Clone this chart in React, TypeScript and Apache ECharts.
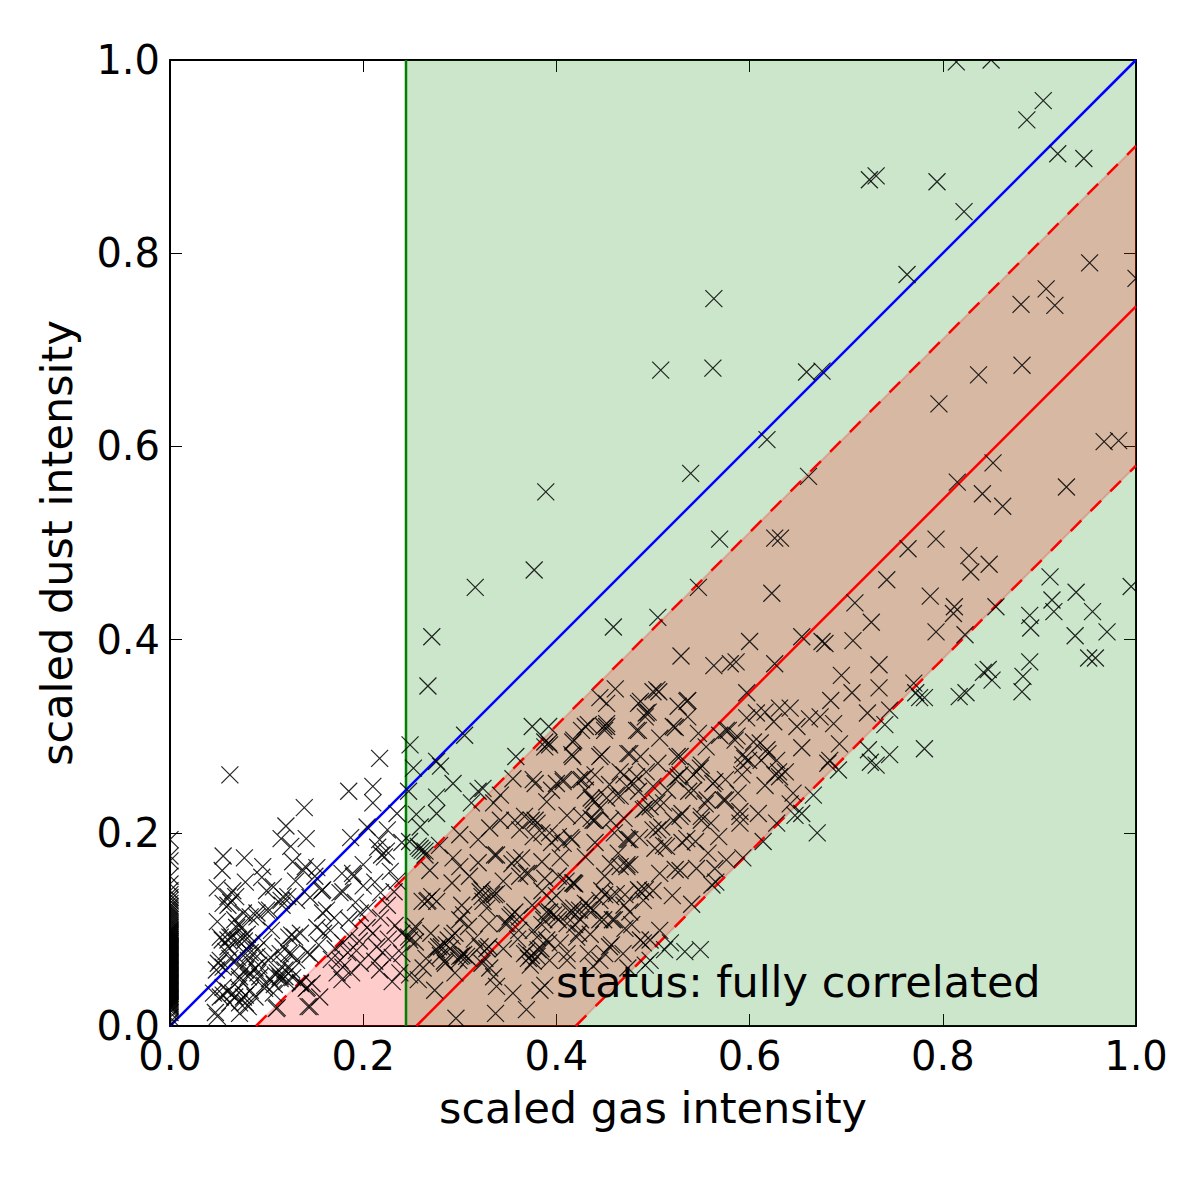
import React, { useEffect, useRef } from 'react';
import * as echarts from 'echarts';

// pixels with no gas at all, only the dust value matters
const zeroGasDust = [
  0.001, 0.004, 0.009, 0.014, 0.017, 0.019, 0.02, 0.021, 0.022, 0.023, 0.024, 0.025, 0.026, 0.027, 0.028, 0.029,
  0.03, 0.031, 0.032, 0.033, 0.034, 0.035, 0.036, 0.037, 0.038, 0.039, 0.04, 0.041, 0.042, 0.043, 0.044, 0.045,
  0.046, 0.047, 0.048, 0.049, 0.05, 0.051, 0.052, 0.053, 0.054, 0.055, 0.056, 0.057, 0.058, 0.059, 0.06, 0.061,
  0.062, 0.063, 0.064, 0.065, 0.066, 0.067, 0.068, 0.069, 0.07, 0.071, 0.072, 0.073, 0.074, 0.075, 0.076, 0.077,
  0.078, 0.079, 0.08, 0.081, 0.082, 0.083, 0.084, 0.085, 0.086, 0.087, 0.088, 0.089, 0.09, 0.091, 0.092, 0.093,
  0.094, 0.095, 0.096, 0.097, 0.098, 0.099, 0.1, 0.102, 0.104, 0.106, 0.108, 0.11, 0.112, 0.114, 0.116, 0.118,
  0.12, 0.122, 0.124, 0.127, 0.13, 0.133, 0.136, 0.14, 0.147, 0.155, 0.171, 0.176, 0.193,
];

const lowGas = [
  [0.062, 0.26], [0.217, 0.277], [0.185, 0.243], [0.21, 0.248], [0.21, 0.231], [0.139, 0.226], [0.12, 0.207],
  [0.115, 0.194], [0.141, 0.194], [0.125, 0.186], [0.187, 0.195], [0.204, 0.206], [0.235, 0.22], [0.055, 0.176],
  [0.077, 0.174], [0.054, 0.161], [0.049, 0.143], [0.096, 0.165], [0.095, 0.154], [0.078, 0.149], [0.06, 0.134],
  [0.055, 0.127], [0.117, 0.134], [0.107, 0.144], [0.127, 0.17], [0.138, 0.161], [0.152, 0.164], [0.158, 0.141],
  [0.178, 0.158], [0.176, 0.138], [0.189, 0.158], [0.2, 0.167], [0.219, 0.177], [0.225, 0.203], [0.217, 0.193],
  [0.049, 0.01], [0.047, 0.014], [0.045, 0.034], [0.052, 0.03], [0.055, 0.04], [0.05, 0.065], [0.055, 0.061],
  [0.054, 0.089], [0.062, 0.092], [0.069, 0.102], [0.07, 0.089], [0.049, 0.108], [0.076, 0.117], [0.09, 0.113],
  [0.083, 0.076], [0.081, 0.068], [0.09, 0.079], [0.081, 0.051], [0.072, 0.048], [0.065, 0.034], [0.076, 0.03],
  [0.081, 0.02], [0.072, 0.013], [0.062, 0.024], [0.072, 0.024], [0.088, 0.03], [0.093, 0.051], [0.104, 0.071],
  [0.114, 0.051], [0.111, 0.055], [0.119, 0.058], [0.107, 0.034], [0.111, 0.019], [0.129, 0.092], [0.135, 0.096],
  [0.123, 0.092], [0.117, 0.082], [0.131, 0.068], [0.126, 0.058], [0.142, 0.076], [0.142, 0.04], [0.155, 0.03],
  [0.145, 0.02], [0.135, 0.045], [0.158, 0.117], [0.166, 0.099], [0.152, 0.102], [0.179, 0.086], [0.184, 0.076],
  [0.176, 0.068], [0.179, 0.061], [0.188, 0.055], [0.173, 0.055], [0.178, 0.048], [0.197, 0.065], [0.204, 0.102],
  [0.197, 0.117], [0.21, 0.096], [0.214, 0.082], [0.22, 0.076], [0.23, 0.071], [0.217, 0.058], [0.23, 0.046],
  [0.238, 0.055], [0.24, 0.096], [0.218, 0.138], [0.222, 0.175], [0.224, 0.181], [0.179, 0.139], [0.19, 0.155],
  [0.2, 0.145], [0.212, 0.149], [0.14, 0.165], [0.15, 0.155], [0.157, 0.14], [0.131, 0.13], [0.122, 0.134],
  [0.115, 0.13], [0.09, 0.117], [0.083, 0.113], [0.103, 0.12], [0.068, 0.134], [0.063, 0.128], [0.065, 0.14],
  [0.058, 0.077], [0.062, 0.07], [0.06, 0.082], [0.077, 0.088], [0.08, 0.095], [0.085, 0.086], [0.072, 0.062],
  [0.07, 0.071], [0.092, 0.063], [0.088, 0.06], [0.098, 0.042], [0.103, 0.049], [0.108, 0.043], [0.121, 0.046],
  [0.127, 0.05], [0.118, 0.064], [0.126, 0.075], [0.159, 0.096], [0.17, 0.112], [0.162, 0.12], [0.185, 0.11],
  [0.192, 0.128], [0.205, 0.122], [0.218, 0.112], [0.225, 0.125], [0.235, 0.15], [0.228, 0.16], [0.232, 0.139],
  [0.215, 0.185], [0.24, 0.19], [0.186, 0.093], [0.193, 0.078], [0.196, 0.088], [0.167, 0.069], [0.171, 0.08],
  [0.226, 0.09], [0.233, 0.104], [0.212, 0.067], [0.24, 0.075], [0.1, 0.14], [0.13, 0.15], [0.145, 0.133],
  [0.078, 0.024], [0.11, 0.018], [0.143, 0.02], [0.141, 0.039], [0.135, 0.044],
  [0.147, 0.044], [0.114, 0.049], [0.109, 0.053], [0.119, 0.051], [0.078, 0.058], [0.083, 0.055], [0.072, 0.051],
  [0.091, 0.055], [0.052, 0.068], [0.048, 0.058], [0.06, 0.036], [0.067, 0.03], [0.055, 0.032],
  [0.071, 0.039], [0.083, 0.037], [0.078, 0.032], [0.098, 0.039], [0.126, 0.094],
  [0.071, 0.106], [0.067, 0.11], [0.074, 0.101], [0.06, 0.125], [0.052, 0.092], [0.06, 0.089],
  [0.064, 0.092], [0.076, 0.092], [0.097, 0.086], [0.105, 0.099], [0.114, 0.075], [0.123, 0.075], [0.1, 0.12],
  [0.116, 0.125], [0.078, 0.075], [0.09, 0.072], [0.102, 0.068], [0.154, 0.084], [0.145, 0.074],
];

const bandLeft = [
  [0.2485, 0.291], [0.375, 0.31], [0.392, 0.31], [0.305, 0.301], [0.358, 0.279], [0.388, 0.294], [0.392, 0.293],
  [0.28, 0.269], [0.252, 0.267], [0.247, 0.243], [0.276, 0.274], [0.293, 0.251], [0.324, 0.246], [0.319, 0.243],
  [0.276, 0.237], [0.276, 0.22], [0.255, 0.219], [0.259, 0.206], [0.312, 0.231], [0.355, 0.256], [0.376, 0.255],
  [0.407, 0.255], [0.426, 0.255], [0.417, 0.279], [0.445, 0.279], [0.476, 0.282], [0.426, 0.306], [0.449, 0.31],
  [0.483, 0.306], [0.259, 0.184], [0.264, 0.181], [0.248, 0.191], [0.279, 0.187], [0.3, 0.198], [0.342, 0.239],
  [0.335, 0.231], [0.342, 0.213], [0.331, 0.205], [0.319, 0.193], [0.293, 0.174], [0.319, 0.169], [0.338, 0.177],
  [0.357, 0.172], [0.367, 0.217], [0.374, 0.213], [0.38, 0.21], [0.362, 0.203], [0.357, 0.213], [0.376, 0.196],
  [0.393, 0.2], [0.411, 0.218], [0.407, 0.189], [0.43, 0.244], [0.438, 0.234], [0.445, 0.225], [0.452, 0.236],
  [0.466, 0.238], [0.438, 0.213], [0.426, 0.217], [0.415, 0.195], [0.404, 0.174], [0.417, 0.148], [0.402, 0.155],
  [0.362, 0.155], [0.354, 0.168], [0.371, 0.158], [0.269, 0.161], [0.292, 0.148], [0.271, 0.134], [0.266, 0.129],
  [0.276, 0.129], [0.302, 0.125], [0.321, 0.139], [0.323, 0.134], [0.338, 0.137], [0.333, 0.136], [0.352, 0.113],
  [0.349, 0.106], [0.357, 0.118], [0.33, 0.106], [0.309, 0.103], [0.252, 0.099], [0.248, 0.089], [0.254, 0.087],
  [0.292, 0.093], [0.281, 0.082], [0.276, 0.079], [0.286, 0.084], [0.304, 0.074], [0.3, 0.072], [0.309, 0.07],
  [0.321, 0.082], [0.33, 0.082], [0.295, 0.055], [0.257, 0.048], [0.248, 0.053], [0.274, 0.037], [0.331, 0.06],
  [0.335, 0.051], [0.338, 0.041], [0.355, 0.034], [0.383, 0.037], [0.369, 0.017], [0.337, 0.013], [0.296, 0.008],
  [0.371, 0.07], [0.373, 0.063], [0.367, 0.075], [0.381, 0.079], [0.393, 0.118], [0.4, 0.113], [0.419, 0.105],
  [0.417, 0.118], [0.424, 0.12], [0.438, 0.12], [0.449, 0.11], [0.456, 0.134], [0.462, 0.137], [0.476, 0.167],
  [0.466, 0.165], [0.455, 0.082], [0.469, 0.075], [0.476, 0.193], [0.485, 0.141], [0.41, 0.15], [0.419, 0.147],
  [0.39, 0.089], [0.38, 0.092], [0.411, 0.106], [0.423, 0.096], [0.393, 0.068], [0.411, 0.068], [0.445, 0.068],
  [0.438, 0.062], [0.425, 0.11], [0.433, 0.125], [0.4, 0.135], [0.265, 0.07], [0.29, 0.08], [0.262, 0.06],
  [0.284, 0.067], [0.315, 0.09], [0.326, 0.07], [0.345, 0.08], [0.36, 0.09], [0.27, 0.096], [0.3, 0.165],
  [0.31, 0.155], [0.328, 0.122], [0.345, 0.15], [0.3, 0.11], [0.385, 0.17], [0.395, 0.19], [0.43, 0.175],
  [0.45, 0.155], [0.44, 0.19], [0.46, 0.2], [0.47, 0.215], [0.455, 0.25], [0.47, 0.26], [0.44, 0.26], [0.385, 0.14],
  [0.375, 0.125], [0.385, 0.105], [0.435, 0.095], [0.46, 0.11], [0.447, 0.14], [0.47, 0.125], [0.478, 0.105],
  [0.261, 0.182], [0.257, 0.186], [0.264, 0.177], [0.323, 0.141], [0.336, 0.136], [0.324, 0.129], [0.267, 0.13],
  [0.261, 0.129], [0.304, 0.115], [0.336, 0.177], [0.364, 0.174],
  [0.369, 0.158], [0.354, 0.115], [0.347, 0.106], [0.362, 0.113], [0.361, 0.099], [0.295, 0.096], [0.247, 0.092],
  [0.254, 0.103], [0.288, 0.089], [0.278, 0.082], [0.28, 0.073], [0.302, 0.073], [0.299, 0.068],
  [0.307, 0.072], [0.328, 0.08], [0.323, 0.065], [0.374, 0.073], [0.369, 0.077],
  [0.285, 0.065], [0.418, 0.148], [0.388, 0.153], [0.395, 0.13], [0.39, 0.118], [0.397, 0.115],
  [0.402, 0.11], [0.387, 0.11], [0.418, 0.122], [0.43, 0.127], [0.414, 0.118], [0.433, 0.12],
  [0.445, 0.11], [0.45, 0.136], [0.473, 0.165], [0.456, 0.168], [0.464, 0.179], [0.487, 0.139],
  [0.492, 0.141], [0.471, 0.101], [0.457, 0.084], [0.476, 0.118], [0.376, 0.099], [0.421, 0.092], [0.404, 0.086],
  [0.392, 0.086], [0.38, 0.072], [0.376, 0.067], [0.384, 0.08], [0.433, 0.075], [0.411, 0.075], [0.45, 0.075],
  [0.49, 0.086], [0.497, 0.068], [0.474, 0.06],
];

const bandRight = [
  [0.5, 0.346], [0.506, 0.346], [0.487, 0.336], [0.495, 0.325], [0.492, 0.32], [0.526, 0.331], [0.536, 0.337],
  [0.536, 0.32], [0.485, 0.306], [0.523, 0.309], [0.507, 0.298], [0.547, 0.303], [0.555, 0.289], [0.578, 0.306],
  [0.569, 0.301], [0.597, 0.319], [0.607, 0.324], [0.625, 0.315], [0.631, 0.329], [0.642, 0.329], [0.616, 0.325],
  [0.649, 0.31], [0.662, 0.318], [0.673, 0.32], [0.687, 0.313], [0.585, 0.296], [0.604, 0.294], [0.618, 0.286],
  [0.628, 0.275], [0.595, 0.277], [0.593, 0.27], [0.592, 0.26], [0.612, 0.275], [0.631, 0.258], [0.637, 0.263],
  [0.616, 0.249], [0.645, 0.241], [0.642, 0.23], [0.588, 0.241], [0.573, 0.234], [0.562, 0.251], [0.554, 0.23],
  [0.55, 0.27], [0.545, 0.263], [0.528, 0.279], [0.505, 0.272], [0.487, 0.279], [0.474, 0.282], [0.526, 0.258],
  [0.537, 0.243], [0.5, 0.248], [0.483, 0.258], [0.473, 0.248], [0.49, 0.224], [0.497, 0.227], [0.511, 0.231],
  [0.521, 0.213], [0.53, 0.22], [0.505, 0.203], [0.55, 0.217], [0.59, 0.222], [0.59, 0.21], [0.609, 0.22],
  [0.628, 0.21], [0.647, 0.218], [0.654, 0.22], [0.568, 0.196], [0.557, 0.179], [0.544, 0.191], [0.511, 0.187],
  [0.502, 0.184], [0.474, 0.193], [0.486, 0.195], [0.576, 0.172], [0.545, 0.163], [0.564, 0.163], [0.523, 0.162],
  [0.473, 0.167], [0.507, 0.158], [0.614, 0.191], [0.593, 0.174], [0.561, 0.146], [0.565, 0.149], [0.528, 0.161],
  [0.53, 0.19], [0.515, 0.244], [0.56, 0.21], [0.575, 0.255], [0.49, 0.13], [0.5, 0.14], [0.52, 0.135],
  [0.54, 0.126], [0.492, 0.063], [0.518, 0.086], [0.507, 0.099], [0.497, 0.089], [0.533, 0.077], [0.549, 0.079],
  [0.512, 0.079], [0.487, 0.089], [0.458, 0.11], [0.471, 0.136], [0.445, 0.13], [0.388, 0.042],
  [0.393, 0.291], [0.388, 0.289], [0.418, 0.296], [0.43, 0.31], [0.452, 0.31], [0.447, 0.281],
  [0.416, 0.281], [0.466, 0.263], [0.424, 0.255], [0.43, 0.258], [0.407, 0.253],
  [0.4, 0.251], [0.436, 0.236], [0.44, 0.232], [0.462, 0.239], [0.493, 0.263], [0.48, 0.251], [0.485, 0.243],
  [0.492, 0.225], [0.378, 0.251], [0.39, 0.232], [0.395, 0.244], [0.436, 0.215], [0.44, 0.213],
  [0.378, 0.213], [0.385, 0.2], [0.416, 0.193], [0.402, 0.196], [0.473, 0.194],
  [0.5, 0.203], [0.456, 0.213], [0.521, 0.31], [0.576, 0.306],
  [0.593, 0.281], [0.599, 0.275], [0.587, 0.3],
  [0.611, 0.293], [0.619, 0.282], [0.626, 0.26], [0.63, 0.263], [0.525, 0.279], [0.549, 0.267],
  [0.542, 0.26], [0.528, 0.26], [0.523, 0.256], [0.564, 0.253], [0.542, 0.244],
  [0.575, 0.234], [0.556, 0.234], [0.504, 0.231], [0.528, 0.217],
  [0.55, 0.213], [0.59, 0.217], [0.509, 0.206], [0.535, 0.194],
  [0.514, 0.186],
];

const sparse = [
  [0.814, 0.998], [0.85, 1.0], [0.904, 0.958], [0.887, 0.938], [0.919, 0.903], [0.946, 0.898], [0.724, 0.876],
  [0.731, 0.88], [0.794, 0.874], [0.822, 0.843], [0.763, 0.778], [0.952, 0.79], [1.0, 0.774], [0.563, 0.753],
  [0.881, 0.747], [0.907, 0.763], [0.916, 0.746], [0.508, 0.679], [0.562, 0.681], [0.659, 0.677], [0.675, 0.678],
  [0.837, 0.674], [0.882, 0.684], [0.796, 0.644], [0.618, 0.607], [0.967, 0.605], [0.982, 0.606], [0.389, 0.553],
  [0.539, 0.572], [0.661, 0.569], [0.852, 0.583], [0.815, 0.563], [0.841, 0.551], [0.862, 0.538], [0.928, 0.558],
  [0.569, 0.504], [0.626, 0.505], [0.632, 0.505], [0.764, 0.494], [0.793, 0.504], [0.827, 0.487], [0.829, 0.47],
  [0.848, 0.478], [0.911, 0.465], [0.995, 0.455], [0.316, 0.454], [0.377, 0.472], [0.547, 0.454], [0.742, 0.462],
  [0.623, 0.448], [0.787, 0.445], [0.938, 0.449], [0.855, 0.434], [0.913, 0.441], [0.955, 0.429], [0.915, 0.429],
  [0.89, 0.425], [0.505, 0.423], [0.459, 0.413], [0.271, 0.403], [0.709, 0.438], [0.812, 0.434], [0.811, 0.427],
  [0.891, 0.412], [0.97, 0.408], [0.937, 0.404], [0.793, 0.408], [0.823, 0.405], [0.726, 0.418], [0.707, 0.399],
  [0.654, 0.403], [0.6, 0.398], [0.675, 0.398], [0.529, 0.383], [0.563, 0.373], [0.586, 0.377], [0.58, 0.375],
  [0.626, 0.375], [0.597, 0.345], [0.678, 0.396], [0.695, 0.363], [0.706, 0.345], [0.684, 0.337],
  [0.734, 0.374], [0.734, 0.35], [0.89, 0.377], [0.883, 0.362], [0.882, 0.346], [0.958, 0.381], [0.951, 0.381],
  [0.842, 0.366], [0.847, 0.369], [0.851, 0.358], [0.77, 0.355], [0.781, 0.34], [0.817, 0.341], [0.824, 0.345],
  [0.772, 0.345], [0.776, 0.34], [0.722, 0.324], [0.745, 0.327], [0.74, 0.312], [0.725, 0.273], [0.723, 0.286],
  [0.731, 0.27], [0.745, 0.281], [0.781, 0.287], [0.692, 0.265], [0.683, 0.275], [0.67, 0.2], [0.693, 0.292],
  [0.654, 0.288], [0.681, 0.272], [0.666, 0.239], [0.267, 0.352], [0.461, 0.349],
  [0.445, 0.34], [0.504, 0.348], [0.485, 0.334], [0.493, 0.324], [0.452, 0.334], [0.452, 0.313], [0.45, 0.306],
  [0.433, 0.312], [0.417, 0.294], [0.535, 0.336],
];

const blueLine = [[0, 0], [1, 1]];
const redLine = [[0.255, 0], [1, 0.745]];
const redUpper = [[0.089, 0], [1, 0.911]];
const redLower = [[0.42, 0], [1, 0.58]];
const gasThreshold = [[0.2443, 0], [0.2443, 1]];
const greenRegion = [[0.2443, 0], [1, 0], [1, 1], [0.2443, 1]];
const redRegion = [[0.089, 0], [1, 0.911], [1, 0.58], [0.42, 0]];

const FONT = 'DejaVu Sans';
const CROSS = 8.5;

const region = (points: number[][], fill: string, stroke = 'none') => ({
  type: 'custom',
  silent: true,
  z: 1,
  clip: true,
  data: [[0, 0]],
  renderItem: (_: any, api: any) => ({
    type: 'polygon',
    shape: { points: points.map((p) => api.coord(p)) },
    style: { fill, stroke, lineWidth: 2 },
  }),
});

const line = (data: number[][], color: string, dashed = false) => ({
  type: 'line',
  data,
  z: 3,
  symbol: 'none',
  silent: true,
  lineStyle: { color, width: 2.5, type: dashed ? [15, 13] : 'solid' },
});

const axis = (extra: any) => ({
  type: 'value',
  min: 0,
  max: 1,
  interval: 0.2,
  splitLine: { show: false },
  axisLine: { show: true, onZero: false, lineStyle: { color: '#000', width: 2 } },
  axisTick: { show: true, inside: true, length: 12, lineStyle: { color: '#000', width: 1 } },
  axisLabel: {
    color: '#000',
    fontFamily: FONT,
    fontSize: 40,
    margin: 10,
    hideOverlap: false,
    showMinLabel: true,
    showMaxLabel: true,
    formatter: (v: number) => v.toFixed(1),
  },
  nameTextStyle: { color: '#000', fontFamily: FONT, fontSize: 43 },
  ...extra,
});

const App: React.FC = () => {
  const chartRef = useRef<HTMLDivElement>(null);

  useEffect(() => {
    if (!chartRef.current) return;
    const chart = echarts.init(chartRef.current, undefined, { renderer: 'svg' });

    const points = [...zeroGasDust.map((d) => [0, d]), ...lowGas, ...bandLeft, ...bandRight, ...sparse];

    chart.setOption({
      animation: false,
      backgroundColor: '#fff',
      grid: { left: 170, top: 60, width: 966, height: 966 },
      xAxis: [
        axis({ position: 'bottom', name: 'scaled gas intensity', nameLocation: 'middle', nameGap: 60 }),
        axis({ position: 'top', axisLabel: { show: false } }),
      ],
      yAxis: [
        axis({ position: 'left', name: 'scaled dust intensity', nameLocation: 'middle', nameGap: 92 }),
        axis({ position: 'right', axisLabel: { show: false } }),
      ],
      series: [
        region(greenRegion, 'rgba(0,128,0,0.2)'),
        region(redRegion, 'rgba(255,0,0,0.2)', 'rgba(255,0,0,0.2)'),
        line(gasThreshold, '#008000'),
        line(blueLine, '#0000ff'),
        line(redLine, '#ff0000'),
        line(redUpper, '#ff0000', true),
        line(redLower, '#ff0000', true),
        {
          type: 'custom',
          data: points,
          z: 4,
          clip: true,
          silent: true,
          encode: { x: 0, y: 1 },
          renderItem: (_: any, api: any) => {
            const [cx, cy] = api.coord([api.value(0), api.value(1)]);
            return {
              type: 'path',
              shape: {
                pathData: `M${cx - CROSS} ${cy - CROSS}L${cx + CROSS} ${cy + CROSS}M${cx - CROSS} ${cy + CROSS}L${cx + CROSS} ${cy - CROSS}`,
              },
              style: { fill: 'none', stroke: '#000', lineWidth: 1.2, opacity: 0.85 },
            };
          },
        },
      ],
      graphic: [
        {
          type: 'text',
          left: 556,
          top: 960,
          z: 10,
          style: { text: 'status: fully correlated', fill: '#000', fontFamily: FONT, fontSize: 43 },
        },
      ],
    });

    return () => {
      chart.dispose();
    };
  }, []);

  return <div ref={chartRef} style={{ position: 'absolute', left: 0, top: 0, width: 1196, height: 1182 }} />;
};

export default App;
